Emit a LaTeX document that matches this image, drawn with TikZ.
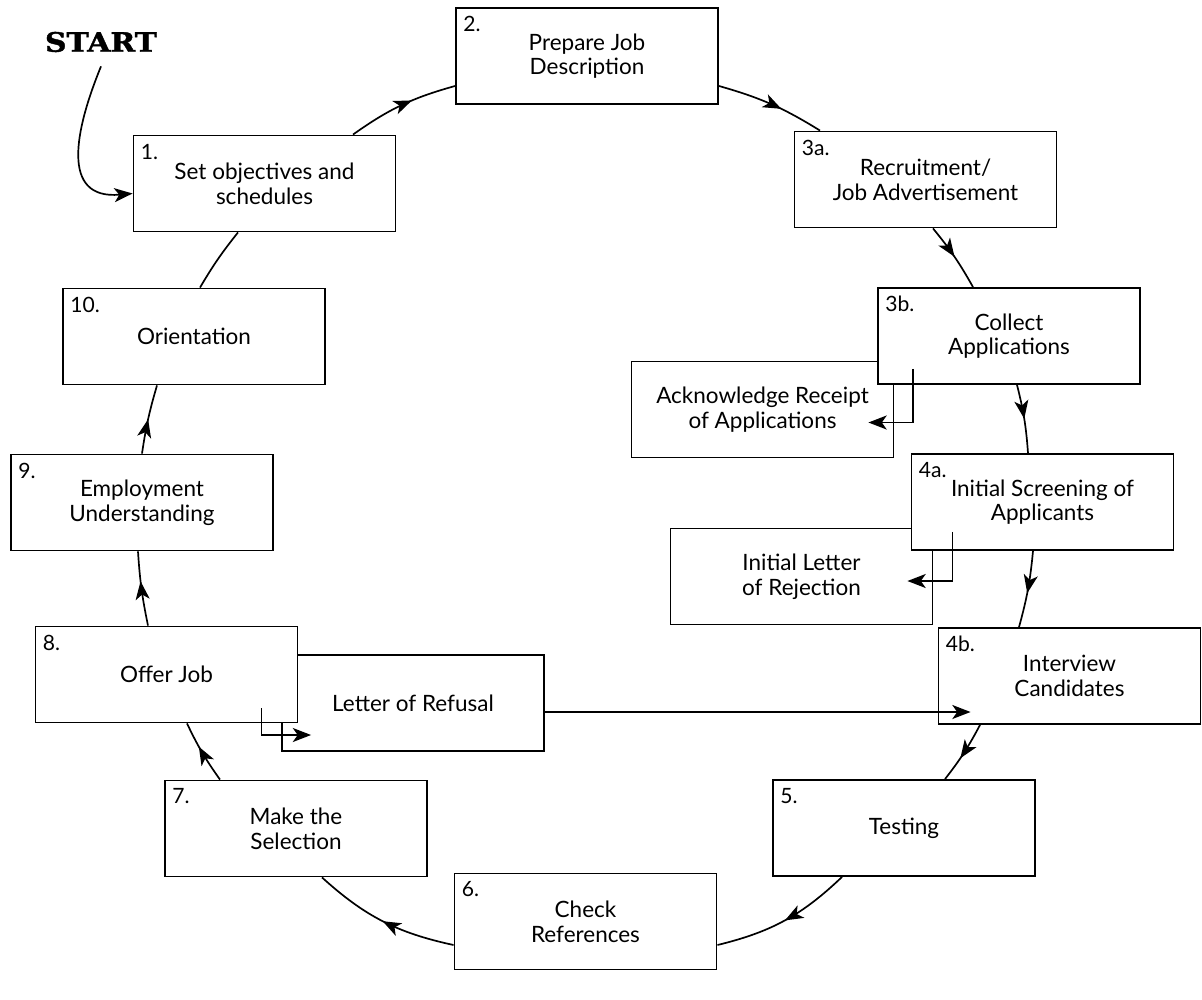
\documentclass[tikz,border=0pt]{standalone}
\usepackage{fontspec}
\setmainfont{Lato}
\newfontfamily\startfont{DejaVu Serif}[UprightFont=* Bold, FakeBold=1.5, FakeStretch=1.12]
\usetikzlibrary{arrows.meta,calc,decorations.markings}

\begin{document}
\begin{tikzpicture}[
            x=0.025cm, y=-0.025cm,
            stage/.style={draw, line width=1.3pt, fill=white, minimum width=6.55cm, minimum height=2.4cm,
                inner sep=0pt, align=center, font=\fontsize{16}{17.5}\selectfont},
            num/.style={anchor=north west, inner sep=0pt, font=\fontsize{15}{16}\selectfont},
            link/.style={line width=1.2pt},
            tip/.style={-{Stealth[length=13pt,width=10pt,inset=3.5pt]}},
            midarrow/.style={decoration={markings,
                mark=at position #1 with {\arrow{Stealth[length=13pt,width=10pt,inset=3.5pt]}}},
                postaction={decorate}},
            midarrow/.default=0.55
        ]
            \useasboundingbox (0,0) rectangle (1202,999);

            \node[stage] (ack) at (762.5,409.5) {Acknowledge Receipt\\of Applications};
            \node[stage] (rej) at (801.5,576.5) {Initial Letter\\of Rejection};
            \node[stage] (ref) at (413,703) {Letter of Refusal};

            \node[stage] (b1) at (264.5,183.5) {Set objectives and\\schedules};
            \node[stage] (b2) at (587,56) {Prepare Job\\Description};
            \node[stage] (b3a) at (925.5,179.5) {Recruitment/\\Job Advertisement};
            \node[stage] (b3b) at (1009,336) {Collect\\Applications};
            \node[stage] (b4a) at (1042.5,502) {Initial Screening of\\Applicants};
            \node[stage] (b4b) at (1069.5,676) {Interview\\Candidates};
            \node[stage] (b5) at (904,828) {Testing};
            \node[stage] (b6) at (585.5,921.5) {Check\\References};
            \node[stage] (b7) at (296,828.5) {Make the\\Selection};
            \node[stage] (b8) at (166.5,674.5) {Offer Job};
            \node[stage] (b9) at (142,502.5) {Employment\\Understanding};
            \node[stage] (b10) at (194,336.5) {Orientation};

            \foreach \b/\n in {b1/1., b2/2., b3a/3a., b3b/3b., b4a/4a., b4b/4b., b5/5., b6/6., b7/7., b8/8., b9/9., b10/10.} {
                \node[num] (\b-num) at ($(\b.north west)+(8,9)$) {\n};
            }

            \node[font=\startfont\fontsize{19}{21}\selectfont, inner sep=0pt] (start) at (101,42) {START};
            \draw[link,tip] ($(start.south)+(0,14)$) .. controls (75,130) and (60,200) .. ($(b1.west)+(0,10)$);

            \draw[link,midarrow=0.6] ($(b1.north)+(88.5,0)$) to[bend left=10] ($(b2.west)+(0,30)$);
            \draw[link,midarrow=0.6] ($(b2.east)+(0,30)$) to[bend left=8] ($(b3a.north)+(-105.5,0)$);
            \draw[link,midarrow=0.5] ($(b3a.south)+(7.5,0)$) to[bend left=5] ($(b3b.north)+(-36,0)$);
            \draw[link,midarrow=0.5] ($(b3b.south)+(8,0)$) to[bend left=5] ($(b4a.north)+(-14.5,0)$);
            \draw[link,midarrow=0.55] ($(b4a.south)+(-9.5,0)$) to[bend left=5] ($(b4b.north)+(-50.5,0)$);
            \draw[link,midarrow=0.6] ($(b4b.south)+(-89.5,0)$) to[bend left=5] ($(b5.north)+(41,0)$);
            \draw[link,midarrow=0.5] ($(b5.south)+(-62,0)$) to[bend left=15] ($(b6.east)+(0,23.5)$);
            \draw[link,midarrow=0.5] ($(b6.west)+(0,23.5)$) to[bend left=15] ($(b7.south)+(26,0)$);
            \draw[link,midarrow=0.6] ($(b7.north)+(-76,0)$) to[bend left=5] ($(b8.south)+(20.5,0)$);
            \draw[link,midarrow=0.6] ($(b8.north)+(-18.5,0)$) to[bend left=4] ($(b9.south)+(-4,0)$);
            \draw[link,midarrow=0.5] (b9.north) to[bend left=4] ($(b10.south)+(-37,0)$);
            \draw[link] ($(b10.north)+(6,0)$) to[bend left=4] ($(b1.south)+(-26.5,0)$);

            \draw[link,tip] ($(b3b.south west)+(36,-16)$) |- ($(ack.east)+(-26,13)$);
            \draw[link,tip] ($(b4a.south west)+(42,-19)$) |- ($(rej.east)+(-26,4.5)$);
            \draw[link,tip] ($(b8.south east)+(-37,-15)$) |- ($(ref.west)+(30,32)$);
            \draw[link,tip] ($(ref.east)+(0,9)$) -- ($(b4b.west)+(33,36)$);
        \end{tikzpicture}
\end{document}
